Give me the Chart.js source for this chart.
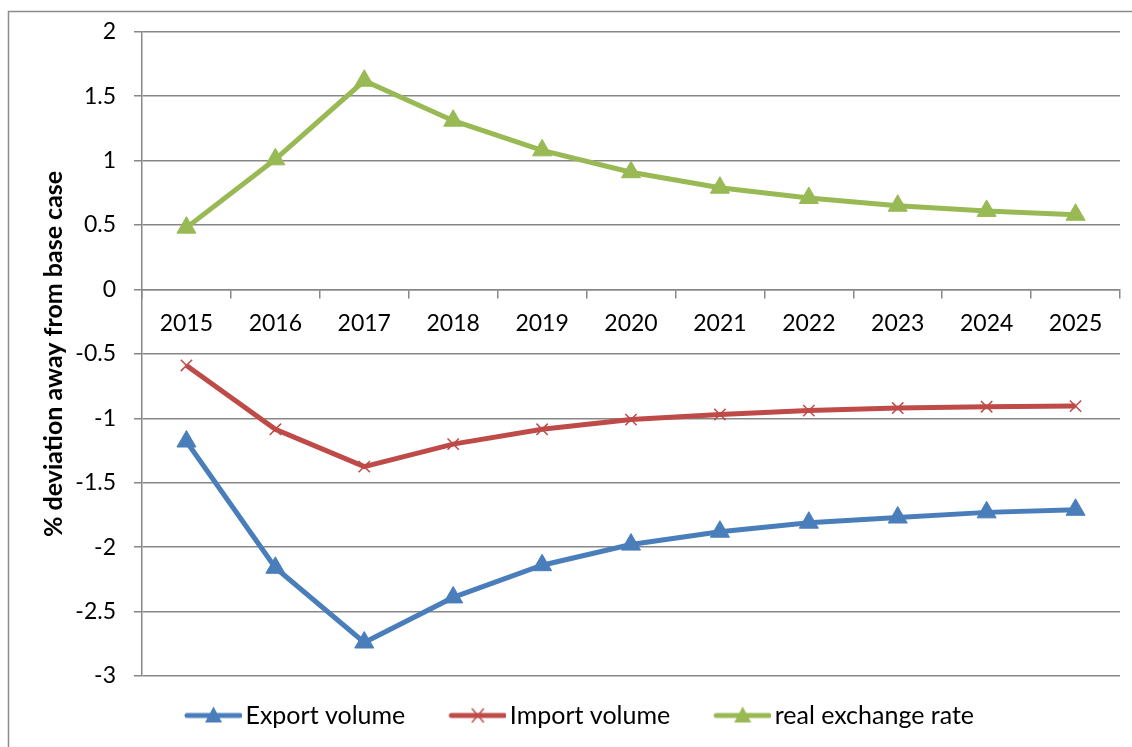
<!DOCTYPE html>
<html>
<head>
<meta charset="utf-8">
<script src="https://cdn.jsdelivr.net/npm/chart.js@4.4.1/dist/chart.umd.min.js"></script>
<style>
  html, body { margin: 0; padding: 0; background: #fff; }
  #wrap { position: relative; width: 1132px; height: 747px; }
</style>
</head>
<body>
<div id="wrap"><canvas id="c" width="1132" height="747"></canvas></div>
<script>
// Simulated response of trade volumes and the real exchange rate
const years = ['2015', '2016', '2017', '2018', '2019', '2020', '2021', '2022', '2023', '2024', '2025'];
const exportVolume = [-1.18, -2.16, -2.74, -2.39, -2.14, -1.98, -1.88, -1.81, -1.77, -1.73, -1.71];
const importVolume = [-0.59, -1.085, -1.375, -1.20, -1.085, -1.01, -0.97, -0.94, -0.92, -0.91, -0.905];
const realExchangeRate = [0.48, 1.01, 1.62, 1.31, 1.08, 0.91, 0.79, 0.71, 0.65, 0.61, 0.58];
const yTicks = [2, 1.5, 1, 0.5, 0, -0.5, -1, -1.5, -2, -2.5, -3];

const BLUE = '#4a7ebb', RED = '#be4b48', GREEN = '#98b954', GRID = '#878787';
const FONT = 'Lato, "Open Sans", sans-serif';

// Legend symbol: a short line segment with the series marker in its middle.
// The canvas carries a transparent lead-in on the left so items sit further apart.
const SYM_W = 83, SYM_H = 24, LEAD = 26;
function legendSymbol(color, kind) {
  const cv = document.createElement('canvas');
  cv.width = SYM_W; cv.height = SYM_H;
  const g = cv.getContext('2d');
  const cy = SYM_H / 2, x0 = LEAD + 2, x1 = SYM_W - 2, cx = (LEAD + SYM_W) / 2;
  g.strokeStyle = color; g.lineWidth = 5; g.lineCap = 'round';
  g.beginPath(); g.moveTo(x0, cy); g.lineTo(x1, cy); g.stroke();
  if (kind === 'triangle') {
    g.fillStyle = color;
    g.beginPath(); g.moveTo(cx, cy - 9); g.lineTo(cx + 8.5, cy + 7); g.lineTo(cx - 8.5, cy + 7); g.closePath(); g.fill();
  } else {
    g.lineWidth = 1.5; g.lineCap = 'butt';
    g.beginPath(); g.moveTo(cx - 6, cy - 7); g.lineTo(cx + 6, cy + 7); g.moveTo(cx + 6, cy - 7); g.lineTo(cx - 6, cy + 7); g.stroke();
  }
  return cv;
}
const symbols = [legendSymbol(BLUE, 'triangle'), legendSymbol(RED, 'cross'), legendSymbol(GREEN, 'triangle')];

// Outer frame of the chart
const framePlugin = {
  id: 'frame',
  beforeDraw(chart) {
    const ctx = chart.ctx;
    ctx.save();
    ctx.strokeStyle = '#8c8c8c';
    ctx.lineWidth = 1.5;
    ctx.strokeRect(8.5, 11.5, chart.width + 20, chart.height + 20);
    ctx.restore();
  }
};

// Nudge the legend row to the right so it sits under the plot area
const legendShift = {
  id: 'legendShift',
  afterLayout(chart) {
    const lg = chart.legend;
    if (lg) { lg.left += 10; lg.right += 10; }
  }
};

new Chart(document.getElementById('c'), {
  type: 'line',
  data: {
    labels: years,
    datasets: [
      { label: 'Export volume', data: exportVolume, borderColor: BLUE, backgroundColor: BLUE,
        borderWidth: 5, pointStyle: 'triangle', pointRadius: 11, pointBorderWidth: 1 },
      { label: 'Import volume', data: importVolume, borderColor: RED, backgroundColor: RED,
        borderWidth: 5, pointStyle: 'crossRot', pointRadius: 8, pointBorderWidth: 1.5 },
      { label: 'real exchange rate', data: realExchangeRate, borderColor: GREEN, backgroundColor: GREEN,
        borderWidth: 5, pointStyle: 'triangle', pointRadius: 11, pointBorderWidth: 1 }
    ]
  },
  options: {
    responsive: false,
    animation: false,
    layout: { padding: { top: 24, right: 10, bottom: 9, left: 0 } },
    elements: { line: { tension: 0 } },
    plugins: {
      tooltip: { enabled: false },
      legend: {
        position: 'bottom',
        labels: {
          usePointStyle: true,
          pointStyleWidth: 65,
          padding: 27,
          color: '#000',
          font: { family: FONT, size: 25 },
          generateLabels(chart) {
            const items = Chart.defaults.plugins.legend.labels.generateLabels(chart);
            items.forEach((it, i) => { it.pointStyle = symbols[i]; });
            return items;
          }
        }
      }
    },
    scales: {
      x: {
        position: { y: 0 },
        offset: true,
        grid: { display: true, offset: true, drawOnChartArea: false, drawTicks: true,
                tickLength: 8, color: GRID, lineWidth: 1.5 },
        border: { display: true, color: GRID, width: 1.5 },
        ticks: { color: '#000', font: { family: FONT, size: 23 }, padding: 12, maxRotation: 0 }
      },
      y: {
        min: -3, max: 2,
        afterBuildTicks(scale) { scale.ticks = yTicks.map(v => ({ value: v })); },
        afterFit(scale) { scale.width = 142; },
        grid: { color: GRID, lineWidth: 1.5, tickLength: 8 },
        border: { display: true, color: GRID, width: 1.5 },
        ticks: { color: '#000', font: { family: FONT, size: 23 }, padding: 18,
                 callback: v => String(v) },
        title: { display: true, text: '% deviation away from base case', color: '#000',
                 font: { family: FONT, size: 25, weight: 'bold' }, padding: { top: 39, bottom: 0 } }
      }
    }
  },
  plugins: [framePlugin, legendShift]
});
</script>
</body>
</html>
